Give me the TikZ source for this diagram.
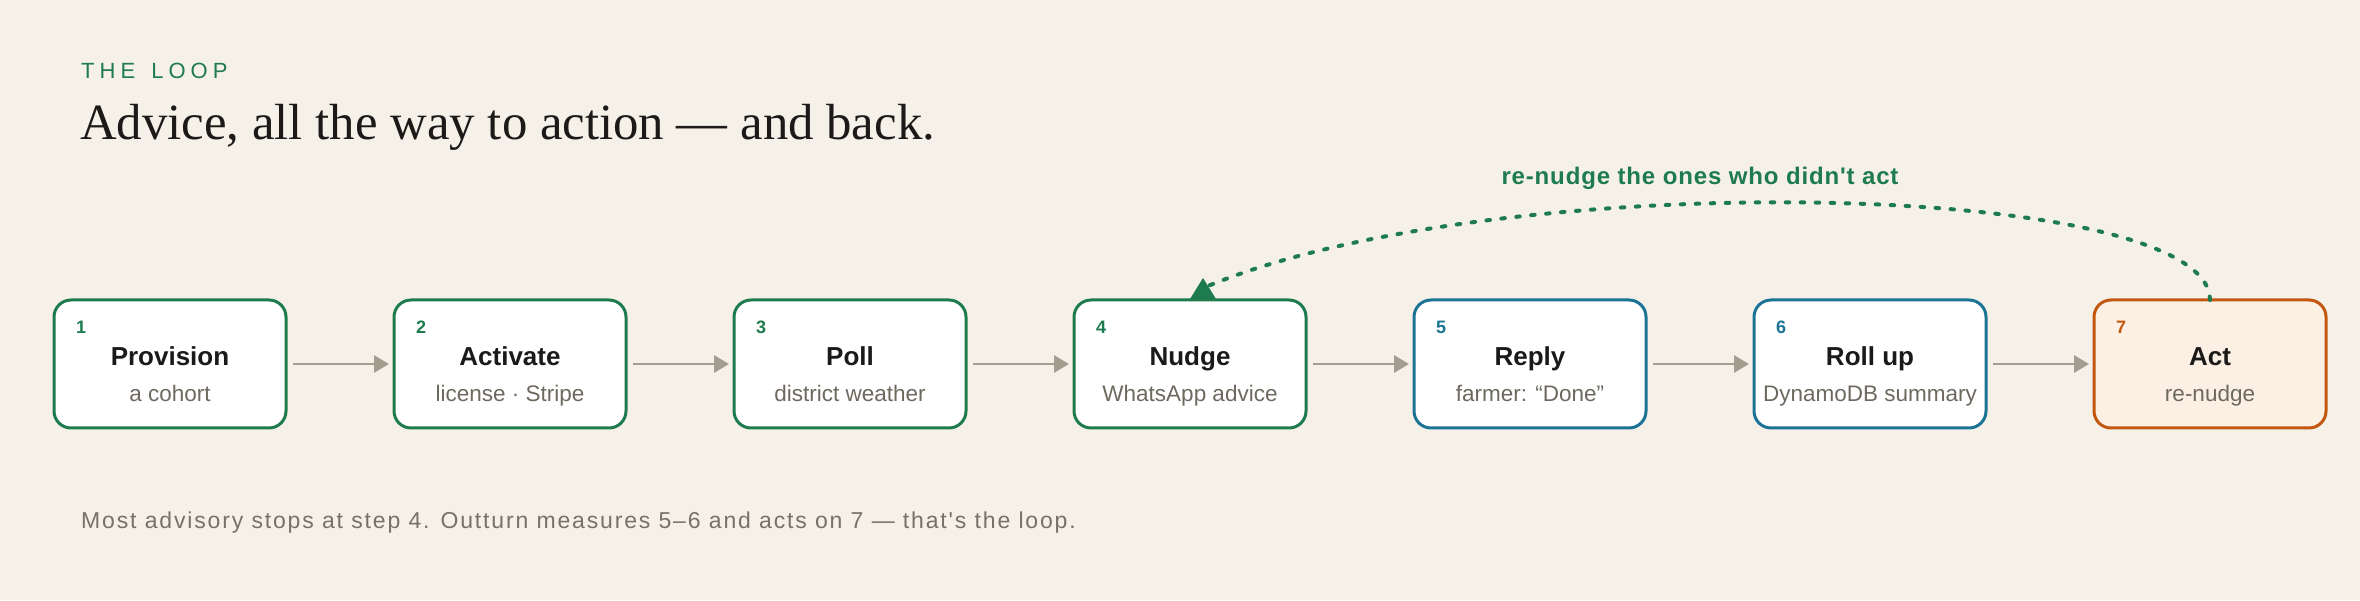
\documentclass[tikz,border=0pt]{standalone}
\usepackage{fontspec}
\setmainfont{Liberation Serif}
\setsansfont{Liberation Sans}
\newfontfamily\plainsans{Liberation Sans}
\usetikzlibrary{arrows.meta}
\definecolor{bg}{HTML}{F5F1E9}
\definecolor{loopgreen}{HTML}{1E7B4D}
\definecolor{loopblue}{HTML}{1C7394}
\definecolor{looporange}{HTML}{C2570F}
\definecolor{orangefill}{HTML}{FBF0E3}
\definecolor{arrowgray}{HTML}{A29D8F}
\definecolor{subgray}{HTML}{6E695F}
\definecolor{ink}{HTML}{1B1A18}
\definecolor{footgray}{HTML}{76716A}
\begin{document}
\begin{tikzpicture}[x=1pt,y=1pt,
  stepbox/.style={draw, line width=3pt, rounded corners=17pt, minimum width=232pt, minimum height=128pt, inner sep=0pt, outer sep=0pt},
  numlabel/.style={anchor=base west, inner sep=0pt, font=\sffamily\bfseries\fontsize{18}{18}\selectfont},
  steptitle/.style={anchor=base, inner sep=0pt, text=ink, font=\sffamily\bfseries\fontsize{26}{26}\selectfont},
  stepsub/.style={anchor=base, inner sep=0pt, text=subgray, font=\sffamily\fontsize{22.5}{22.5}\selectfont},
  flow/.style={draw=arrowgray, line width=2.8pt, -{Triangle[length=15pt,width=17pt]}},
  loopline/.style={draw=loopgreen, line width=4pt, line cap=round, dash pattern=on 3.5pt off 11.5pt}
]
\fill[bg] (0,0) rectangle (2360,600);
\useasboundingbox (0,0) rectangle (2360,600);

\node[anchor=base west, inner sep=0pt, text=loopgreen, font=\sffamily\fontsize{22}{22}\selectfont] (kicker) at (81,521)
  {T\kern5pt H\kern5pt E\kern5pt\ \kern5pt L\kern5pt O\kern5pt O\kern5pt P};
\node[anchor=base west, inner sep=0pt, text=ink, font=\rmfamily\fontsize{50.8}{50.8}\selectfont] (title) at (80,460)
  {Advice, all the way to action — and back.};

\foreach \i/\t/\s/\c/\f in {
  1/Provision/a cohort/loopgreen/white,
  2/Activate/license · Stripe/loopgreen/white,
  3/Poll/district weather/loopgreen/white,
  4/Nudge/WhatsApp advice/loopgreen/white,
  5/Reply/farmer: “Done”/loopblue/white,
  6/Roll up/DynamoDB summary/loopblue/white,
  7/Act/re-nudge/looporange/orangefill}{
  \node[stepbox, draw=\c, fill=\f] (n\i) at ({170+340*(\i-1)},236) {};
  \node[numlabel, text=\c] (k\i) at ([shift={(22,-34)}]n\i.north west) {\i};
  \node[steptitle] (t\i) at ([yshift=-66]n\i.north) {\t};
  \node[stepsub] (s\i) at ([yshift=-102]n\i.north) {\s};
}

\foreach \a/\b in {1/2,2/3,3/4,4/5,5/6,6/7}
  \draw[flow] ([xshift=7]n\a.east) -- ([xshift=-5]n\b.west);

\draw[loopline] (n7.north) .. controls ([yshift=120]n7.north) and ([shift={(310,135)}]n4.north) .. ([shift={(18,14)}]n4.north);
\fill[loopgreen] ([shift={(0,1)}]n4.north) -- ([shift={(26,1)}]n4.north) -- ([shift={(13,22)}]n4.north) -- cycle;
\node[anchor=base, inner sep=0pt, text=loopgreen, font=\plainsans\bfseries\fontsize{24}{24}\selectfont\addfontfeature{LetterSpace=3.5}] (looplabel) at (1700,415)
  {re-nudge the ones who didn't act};

\node[anchor=base west, inner sep=0pt, text=footgray, font=\plainsans\fontsize{23}{23}\selectfont\addfontfeature{LetterSpace=8}] (foot) at (81,72)
  {Most advisory stops at step 4. Outturn measures 5–6 and acts on 7 — that's the loop.};
\end{tikzpicture}
\end{document}
